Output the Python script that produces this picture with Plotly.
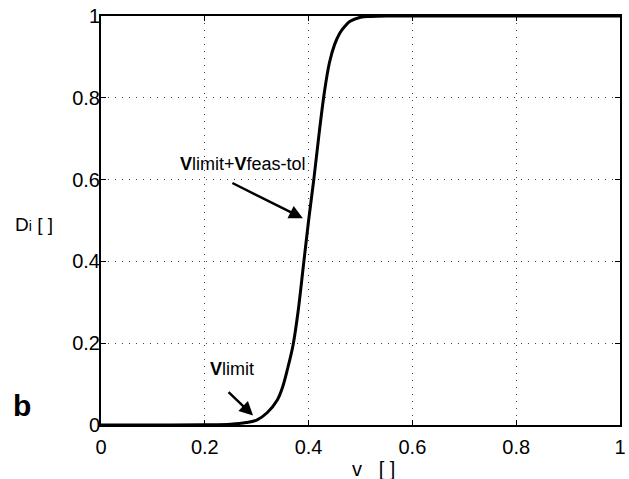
import plotly.graph_objects as go

# Curve values
v_vals = [0.0, 0.1, 0.2, 0.25, 0.28, 0.30, 0.32, 0.34, 0.35, 0.36, 0.37, 0.38, 0.39,
          0.40, 0.41, 0.42, 0.43, 0.44, 0.45, 0.46, 0.47, 0.48, 0.50, 0.52, 0.55, 0.60, 0.70, 1.0]
d_vals = [0.0, 0.0, 0.0005, 0.002, 0.006, 0.012, 0.03, 0.062, 0.093, 0.14, 0.195, 0.28, 0.39,
          0.50, 0.60, 0.71, 0.81, 0.885, 0.93, 0.958, 0.975, 0.987, 0.997, 0.999, 1.0, 1.0, 1.0, 1.0]

tick_vals = [0, 0.2, 0.4, 0.6, 0.8, 1]
tick_text = ["0", "0.2", "0.4", "0.6", "0.8", "1"]

FONT = "Liberation Sans, Arial, sans-serif"

fig = go.Figure()
fig.add_trace(go.Scatter(x=v_vals, y=d_vals, mode="lines",
                         line=dict(color="black", width=3, shape="spline", smoothing=1.0),
                         hoverinfo="skip", showlegend=False))

axis_common = dict(
    range=[0, 1], tickvals=tick_vals, ticktext=tick_text,
    showline=True, linecolor="black", linewidth=2, mirror="ticks",
    ticks="inside", ticklen=5, tickwidth=1, tickcolor="black",
    showgrid=True, gridcolor="#444444", gridwidth=1, griddash="1px,6px",
    zeroline=False, tickfont=dict(family=FONT, size=20, color="black"),
    ticklabeloverflow="allow", automargin=False,
)
fig.update_xaxes(**axis_common, ticklabelstandoff=3)
fig.update_yaxes(**axis_common, ticklabelstandoff=-5)

fig.add_annotation(x=0.389, y=0.5055, xref="x", yref="y", ax=-72, ay=-36,
                   showarrow=True, arrowhead=2, arrowsize=1.1, arrowwidth=2.5,
                   arrowcolor="black", text="")
fig.add_annotation(x=0.293, y=0.023, xref="x", yref="y", ax=-26, ay=-25,
                   showarrow=True, arrowhead=2, arrowsize=1.1, arrowwidth=2.5,
                   arrowcolor="black", text="")
fig.add_annotation(x=0.274, y=0.639, xref="x", yref="y", showarrow=False,
                   text="<b>V</b>limit+<b>V</b>feas-tol",
                   font=dict(family=FONT, size=18, color="black"))
fig.add_annotation(x=0.253, y=0.137, xref="x", yref="y", showarrow=False,
                   text="<b>V</b>limit",
                   font=dict(family=FONT, size=18, color="black"))

fig.add_annotation(x=0.48, y=-0.1077, xref="paper", yref="paper", xanchor="left",
                   yanchor="middle", showarrow=False, text="v   [ ]",
                   font=dict(family=FONT, size=20, color="black"))
fig.add_annotation(x=-0.1696, y=0.491, xref="paper", yref="paper", xanchor="left",
                   yanchor="middle", showarrow=False,
                   text="D<span style='font-size:14px'>i</span> [ ]",
                   font=dict(family=FONT, size=19, color="black"))
fig.add_annotation(x=-0.1735, y=0.048, xref="paper", yref="paper", xanchor="left",
                   yanchor="middle", showarrow=False, text="<b>b</b>",
                   font=dict(family=FONT, size=30, color="black"))

fig.update_layout(width=629, height=479,
                  margin=dict(l=101, r=9, t=16, b=54, autoexpand=False),
                  plot_bgcolor="white", paper_bgcolor="white")
fig.write_html("out.html", config={"displayModeBar": False},
               post_script="document.body.style.margin='0px';")
